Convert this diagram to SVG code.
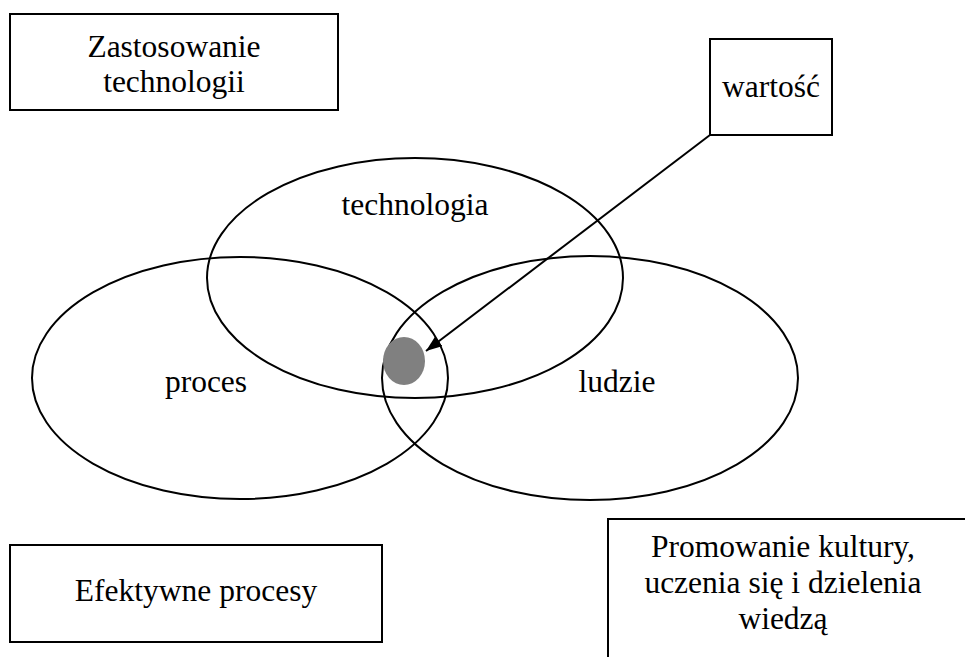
<svg xmlns="http://www.w3.org/2000/svg" width="965" height="657" viewBox="0 0 965 657">
<style>
.box{fill:#fff;stroke:#000;stroke-width:2}
.ell{fill:none;stroke:#000;stroke-width:2}
text{font-family:"Liberation Serif","Times New Roman",serif;font-size:31.5px;fill:#000;text-anchor:middle}
</style>
<defs>
<marker id="ah" viewBox="0 0 16 12" refX="16" refY="6" markerWidth="16" markerHeight="12" markerUnits="userSpaceOnUse" orient="auto">
<path d="M0,0 L16,6 L0,12 z" fill="#000"/>
</marker>
</defs>
<rect width="965" height="657" fill="#fff"/>
<g id="box-zastosowanie"><rect class="box" x="10" y="14" width="328" height="96"/><text x="174" y="57">Zastosowanie</text><text x="174" y="92">technologii</text></g>
<g id="box-wartosc"><rect class="box" x="710" y="39" width="122" height="96"/><text x="771" y="97">wartość</text></g>
<g id="box-efektywne"><rect class="box" x="10" y="545" width="372" height="97"/><text x="196" y="601">Efektywne procesy</text></g>
<g id="box-promowanie"><rect class="box" x="608" y="519" width="400" height="200"/><text x="783" y="557">Promowanie kultury,</text><text x="783" y="593">uczenia się i dzielenia</text><text x="783" y="629">wiedzą</text></g>
<g id="ellipse-technologia"><ellipse class="ell" cx="415" cy="278" rx="208" ry="120"/><text x="415" y="215">technologia</text></g>
<g id="ellipse-proces"><ellipse class="ell" cx="240" cy="378" rx="208" ry="121"/><text x="206" y="392">proces</text></g>
<g id="ellipse-ludzie"><ellipse class="ell" cx="590" cy="378" rx="208" ry="122"/><text x="617" y="392">ludzie</text></g>
<g id="dot-wartosc"><ellipse cx="404" cy="361" rx="21" ry="24" fill="#808080"/></g>
<g id="connectors"><line x1="710" y1="135" x2="426" y2="351" stroke="#000" stroke-width="2" marker-end="url(#ah)"/></g>
</svg>
